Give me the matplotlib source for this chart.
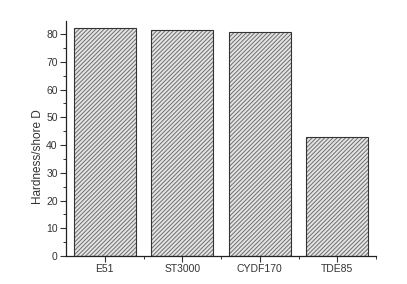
import matplotlib.pyplot as plt
from matplotlib.ticker import MultipleLocator, FixedLocator

plt.rcParams['font.family'] = ['Liberation Sans', 'DejaVu Sans']
plt.rcParams['hatch.linewidth'] = 0.7

samples = ["E51", "ST3000", "CYDF170", "TDE85"]
hardness = [82.0, 81.3, 80.6, 42.9]

fig = plt.figure(figsize=(4.07, 2.84), dpi=100)
ax = fig.add_axes([66/407, 1-256/284, 310/407, 235/284])

pos = list(range(len(samples)))
# hatch layer in gray, then black outline on top
ax.bar(pos, hardness, width=0.8, color="#e4e4e4", edgecolor="#6e6e6e",
       hatch="////////", linewidth=0)
ax.bar(pos, hardness, width=0.8, fill=False, edgecolor="#333333", linewidth=0.8)

ax.set_xlim(-0.5, 3.5)
ax.set_ylim(0, 84.7)
ax.set_xticks(pos)
ax.set_xticklabels(samples)
ax.xaxis.set_minor_locator(FixedLocator([0.5, 1.5, 2.5, 3.5]))
ax.yaxis.set_major_locator(MultipleLocator(10))
ax.yaxis.set_minor_locator(MultipleLocator(5))

for s in ["top", "right"]:
    ax.spines[s].set_visible(False)
for s in ["left", "bottom"]:
    ax.spines[s].set_linewidth(0.9)
    ax.spines[s].set_color("#222222")

ax.tick_params(axis="both", which="major", direction="out", length=4, width=0.8,
               labelsize=7.5, pad=2, colors="#333333")
ax.tick_params(axis="both", which="minor", direction="out", length=2, width=0.7,
               colors="#333333")
ax.set_ylabel("Hardness/shore D", fontsize=8.5, color="#333333")
ax.yaxis.set_label_coords(-0.07, 0.425)

fig.savefig("out.png", dpi=100)
